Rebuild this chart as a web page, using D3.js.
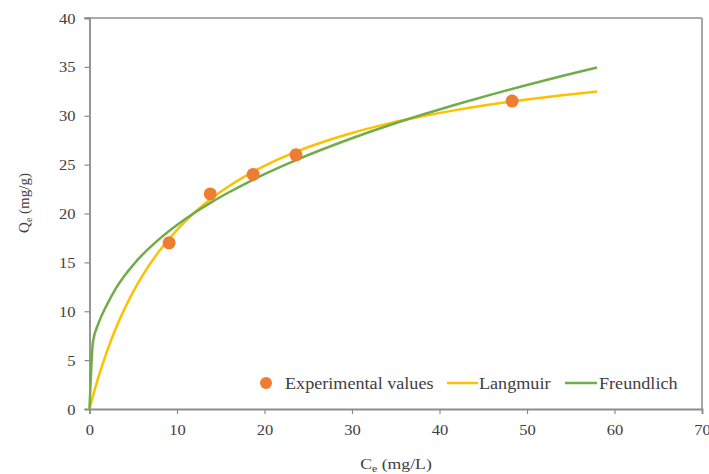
<!DOCTYPE html>
<html>
<head>
<meta charset="utf-8">
<script src="https://cdn.jsdelivr.net/npm/d3@7"></script>
<style>
  html, body { margin: 0; padding: 0; background: #fff; }
  svg { display: block; }
  text { font-family: "Liberation Serif", "Times New Roman", serif; fill: #404040; }
</style>
</head>
<body>
<svg id="chart" width="709" height="474"></svg>
<script>
// Equilibrium concentration Ce (mg/L) and adsorbed amount Qe (mg/g)
const expCe = [9.1, 13.8, 18.7, 23.6, 48.3];
const expQe = [17.0, 22.0, 24.0, 26.0, 31.5];

// Langmuir isotherm curve
const langCe = [0, 0.5, 1, 2, 3, 4, 5, 6, 8, 10, 12, 14, 16, 18, 20, 23, 26, 30, 34, 38, 42, 46, 50, 54, 58];
const langQe = [0, 1.67, 3.20, 5.90, 8.23, 10.24, 12.01, 13.57, 16.20, 18.33, 20.10, 21.58, 22.84, 23.93, 24.88, 26.10, 27.11, 28.24, 29.17, 29.94, 30.60, 31.17, 31.66, 32.10, 32.48];

// Freundlich isotherm curve
const freCe = [0, 0.4, 1, 2, 3, 4, 5, 6, 8, 10, 12, 14, 16, 18, 20, 23, 26, 30, 34, 38, 42, 46, 50, 54, 58];
const freQe = [0, 6.9, 8.7, 10.68, 12.32, 13.63, 14.75, 15.73, 17.40, 18.82, 20.07, 21.19, 22.20, 23.14, 24.02, 25.23, 26.34, 27.70, 28.95, 30.10, 31.18, 32.19, 33.15, 34.06, 34.93];

const xTicks = [0, 10, 20, 30, 40, 50, 60, 70];
const yTicks = [0, 5, 10, 15, 20, 25, 30, 35, 40];

const seriesNames = ["Experimental values", "Langmuir", "Freundlich"];
const colors = { exp: "#ED7D31", lang: "#FFC000", fre: "#70AD47" };

const svg = d3.select("#chart");
const plot = { left: 89.5, right: 702, top: 18, bottom: 409 };

const x = d3.scaleLinear().domain([0, 70]).range([plot.left, plot.right]);
const y = d3.scaleLinear().domain([0, 40]).range([plot.bottom, plot.top]);

const SX = 1.18; // horizontal glyph stretch

// plot frame: top and right borders
svg.append("line").attr("x1", plot.left - 5).attr("x2", plot.right)
  .attr("y1", plot.top).attr("y2", plot.top)
  .attr("stroke", "#595959").attr("stroke-width", 1.2);
svg.append("line").attr("x1", plot.right).attr("x2", plot.right)
  .attr("y1", plot.top).attr("y2", plot.bottom)
  .attr("stroke", "#a6a6a6").attr("stroke-width", 2);

// axes
const xAxis = svg.append("g").attr("transform", `translate(0,${plot.bottom})`)
  .call(d3.axisBottom(x).tickValues(xTicks).tickSize(5).tickPadding(0).tickFormat(d3.format("d")));
const yAxis = svg.append("g").attr("transform", `translate(${plot.left},0)`)
  .call(d3.axisLeft(y).tickValues(yTicks).tickSize(5).tickPadding(0).tickFormat(d3.format("d")));

[xAxis, yAxis].forEach(g => {
  g.select(".domain").attr("stroke", "#8c8c8c").attr("stroke-width", 1.8);
  g.selectAll(".tick line").attr("stroke", "#8c8c8c").attr("stroke-width", 1.2);
  g.selectAll(".tick text").attr("font-family", "Liberation Serif").attr("font-size", 14).attr("fill", "#404040");
});
xAxis.selectAll(".tick text").attr("dy", null).attr("y", null)
  .attr("transform", `translate(0,26) scale(${SX},1)`);
yAxis.selectAll(".tick text").attr("x", null).attr("dy", null)
  .attr("transform", `translate(-14,5) scale(${SX},1)`);

// curves
const line = d3.line().curve(d3.curveMonotoneX);
svg.append("path")
  .attr("d", line(langCe.map((c, i) => [x(c), y(langQe[i])])))
  .attr("fill", "none").attr("stroke", colors.lang).attr("stroke-width", 2.5);
svg.append("path")
  .attr("d", line(freCe.map((c, i) => [x(c), y(freQe[i])])))
  .attr("fill", "none").attr("stroke", colors.fre).attr("stroke-width", 2.5);

// experimental points
svg.append("g").selectAll("circle").data(expCe).join("circle")
  .attr("cx", d => x(d)).attr("cy", (d, i) => y(expQe[i]))
  .attr("r", 6.5).attr("fill", colors.exp);

// axis titles
const yTitle = svg.append("text").attr("transform", "translate(29,203) rotate(-90)")
  .attr("text-anchor", "middle").attr("font-size", 15);
yTitle.append("tspan").text("Q");
yTitle.append("tspan").attr("font-size", 10).attr("dy", 3).text("e");
yTitle.append("tspan").attr("dy", -3).text(" (mg/g)");

const xTitle = svg.append("text").attr("transform", `translate(396,469) scale(${SX},1)`)
  .attr("text-anchor", "middle").attr("font-size", 15);
xTitle.append("tspan").text("C");
xTitle.append("tspan").attr("font-size", 10).attr("dy", 3).text("e");
xTitle.append("tspan").attr("dy", -3).text(" (mg/L)");

// legend
const ly = 383;
const lg = svg.append("g");
lg.append("circle").attr("cx", 266).attr("cy", ly).attr("r", 6).attr("fill", colors.exp);
lg.append("text").attr("transform", `translate(285,${ly + 5.5}) scale(1.1,1)`)
  .attr("font-size", 16.5).text(seriesNames[0]);
lg.append("line").attr("x1", 447).attr("x2", 478).attr("y1", ly).attr("y2", ly)
  .attr("stroke", colors.lang).attr("stroke-width", 2.5);
lg.append("text").attr("transform", `translate(479,${ly + 5.5}) scale(1.1,1)`)
  .attr("font-size", 16.5).text(seriesNames[1]);
lg.append("line").attr("x1", 565).attr("x2", 597).attr("y1", ly).attr("y2", ly)
  .attr("stroke", colors.fre).attr("stroke-width", 2.5);
lg.append("text").attr("transform", `translate(599,${ly + 5.5}) scale(1.1,1)`)
  .attr("font-size", 16.5).text(seriesNames[2]);
</script>
</body>
</html>
